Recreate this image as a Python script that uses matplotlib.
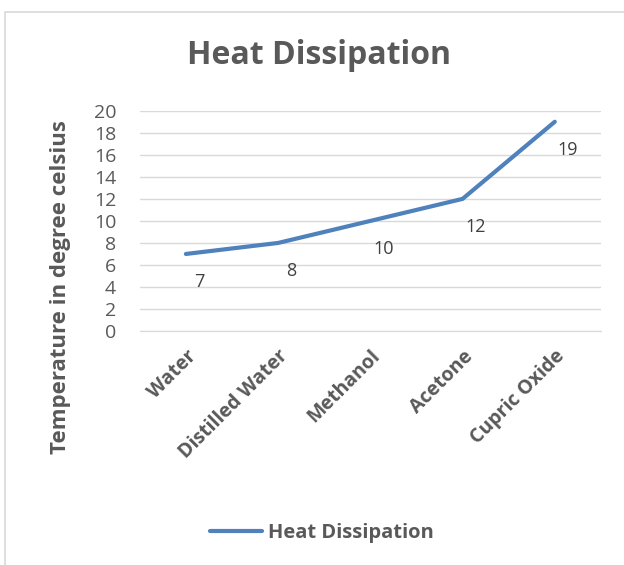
import matplotlib.pyplot as plt
from matplotlib.patches import Rectangle

materials = ['Water', 'Distilled Water', 'Methanol', 'Acetone', 'Cupric Oxide']
heat = [7, 8, 10, 12, 19]
y_ticks = [0, 2, 4, 6, 8, 10, 12, 14, 16, 18, 20]

gray = '#595959'
blue = '#4F81BD'
plt.rcParams['font.family'] = ['Open Sans', 'DejaVu Sans']

fig = plt.figure(figsize=(6.24, 5.65), dpi=100)
ax = fig.add_axes([0.224, 0.414, 0.739, 0.39])

# chart frame (cropped on the right and bottom)
fig.patches.append(Rectangle((5 / 624, -0.05), 1.1, 1 - 12 / 565 + 0.05,
                             transform=fig.transFigure, fill=False,
                             edgecolor='#D9D9D9', linewidth=1.2))

x = range(len(materials))
ax.plot(x, heat, color=blue, linewidth=3, solid_capstyle='round',
        label='Heat Dissipation')
for xi, v in zip(x, heat):
    ax.annotate(str(v), (xi, v), xytext=(9.5, -20), textcoords='offset points',
                ha='center', va='center', fontsize=13, color='#404040')

ax.set_xlim(-0.5, len(materials) - 0.5)
ax.set_ylim(0, 20)
ax.set_yticks(y_ticks)
ax.yaxis.grid(True, color='#D9D9D9', linewidth=1)
ax.set_axisbelow(True)
for s in ['top', 'right', 'left']:
    ax.spines[s].set_visible(False)
ax.spines['bottom'].set_color('#D9D9D9')
ax.tick_params(axis='y', length=0, labelsize=14, colors=gray, pad=17)
ax.set_xticks(list(x))
ax.set_xticklabels(materials, rotation=45, ha='right', rotation_mode='anchor',
                   fontsize=14, fontweight='bold', color=gray)
ax.tick_params(axis='x', length=0, pad=11)

fig.text(319 / 624, 1 - 55 / 565, 'Heat Dissipation', ha='center', va='center',
         fontsize=23, fontweight='bold', color=gray)
fig.text(61 / 624, 1 - 287 / 565, 'Temperature in degree celsius', rotation=90,
         ha='center', va='center', fontsize=16, fontweight='bold', color=gray)

leg = fig.legend(loc='center', bbox_to_anchor=(322 / 624, 1 - 533 / 565), frameon=False,
                 handlelength=2.6, handletextpad=0.3,
                 prop={'size': 14.5, 'weight': 'bold'})
for t in leg.get_texts():
    t.set_color(gray)

fig.savefig('out.png', dpi=100)
